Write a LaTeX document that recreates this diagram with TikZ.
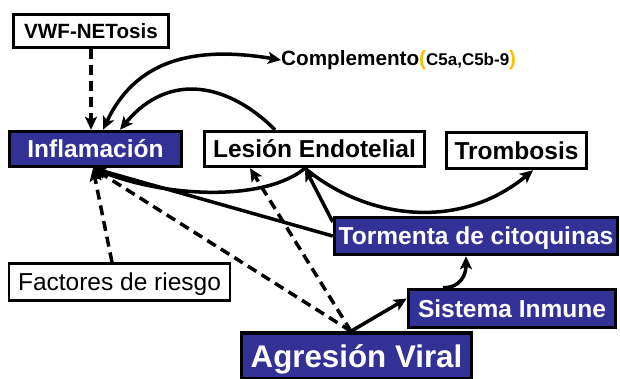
\documentclass[tikz,border=0pt]{standalone}
\usepackage{fontspec}
\setmainfont{Liberation Sans}
\usetikzlibrary{arrows.meta}
\definecolor{boxblue}{RGB}{50,50,150}
\definecolor{parorange}{RGB}{255,190,0}
\begin{document}
\begin{tikzpicture}[x=1pt,y=-1pt,
  >={Stealth[length=13pt,width=12pt,inset=3pt]},
  box/.style={draw=black, line width=3.5pt, inner sep=0pt, text height=17.5pt, text depth=0pt, font=\fontsize{24.5}{28}\selectfont\bfseries},
  bluebox/.style={box, fill=boxblue, text=white},
  whitebox/.style={box, fill=white},
  arr/.style={line width=3.5pt, ->},
  darr/.style={arr, dash pattern=on 10pt off 6pt},
]
\useasboundingbox (0,0) rectangle (620,378);

\node[whitebox, minimum width=155, minimum height=33, text height=14.7pt, font=\fontsize{20.6}{24}\selectfont\bfseries] (vwf) at (91,31) {VWF-NETosis};
\node[bluebox, minimum width=172, minimum height=35] (infl) at (95.5,149) {Inflamación};
\node[whitebox, minimum width=220, minimum height=35] (les) at (314.5,149) {Lesión Endotelial};
\node[whitebox, minimum width=140, minimum height=36] (trom) at (516.5,150.5) {Trombosis};
\node[bluebox, minimum width=283, minimum height=37] (torm) at (476,236) {Tormenta de citoquinas};
\node[bluebox, minimum width=207, minimum height=38] (sis) at (512,308.5) {Sistema Inmune};
\node[bluebox, minimum width=230, minimum height=46, text height=22.4pt, font=\fontsize{31.3}{36}\selectfont\bfseries] (agr) at (356.5,356) {Agresión Viral};
\node[whitebox, line width=2.5pt, minimum width=221, minimum height=37, font=\fontsize{24.5}{28}\selectfont] (fac) at (119.5,282) {Factores de riesgo};
\node[anchor=west, inner sep=0pt, font=\fontsize{20.7}{24}\selectfont\bfseries] (comp) at (281,60)
  {Complemento\textcolor{parorange}{(}{\fontsize{17}{20}\selectfont C5a,C5b-9}\textcolor{parorange}{)}};

\draw[darr, line width=4pt] (vwf.south) -- (vwf.south |- infl.north);
\draw[arr,<->] ([xshift=7.5pt]infl.north) .. controls +(32,-68) and +(-90,-15) .. (comp.west);
\draw[arr] ([xshift=-39.5pt]les.north) .. controls +(-45,-45) and +(50,-60) .. ([xshift=24.5pt]infl.north);
\draw[arr] ([yshift=14pt]torm.west) -- ([xshift=-9.5pt]les.south);
\draw[arr] (torm.west) -- ([xshift=-2.5pt]infl.south);
\draw[arr] ([xshift=-9.5pt]les.south) .. controls +(-40,33) and +(75,30) .. ([xshift=-2.5pt]infl.south);
\draw[arr] ([xshift=-9.5pt]les.south) .. controls +(60,50) and +(-75,62) .. ([xshift=16.5pt]trom.south);
\draw[darr] ([xshift=-5.5pt]agr.north) -- ([xshift=-64.5pt]les.south);
\draw[darr] ([xshift=-5.5pt]agr.north) -- ([xshift=-2.5pt]infl.south);
\draw[darr] ([xshift=-7.5pt]fac.north) -- ([xshift=-2.5pt]infl.south);
\draw[arr] ([xshift=-5.5pt]agr.north) -- ([yshift=10pt]sis.west);
\draw[arr] ([xshift=-69pt]sis.north) .. controls +(18,0) and +(0,18) .. ([xshift=-10pt]torm.south);
\end{tikzpicture}
\end{document}
